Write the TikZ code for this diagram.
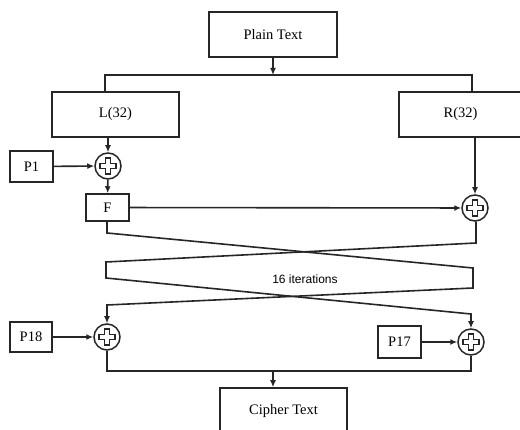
\documentclass[tikz,border=0pt]{standalone}
\usepackage{fontspec}
\setmainfont{Liberation Serif}
\newfontfamily\itersans{Liberation Sans}
\usetikzlibrary{arrows.meta}
\tikzset{
	box/.style = {draw, line width=1.5pt, fill=white, font=\fontsize{14.5}{16}\selectfont},
	xor/.style = {draw, circle, line width=1.5pt, minimum size=26pt, inner sep=0pt,
		path picture={\draw[line width=1.3pt] ([shift={(-2.5,-8)}]path picture bounding box.center)
			-- ++(5,0) -- ++(0,5.5) -- ++(5.5,0) -- ++(0,5) -- ++(-5.5,0) -- ++(0,5.5)
			-- ++(-5,0) -- ++(0,-5.5) -- ++(-5.5,0) -- ++(0,-5) -- ++(5.5,0) -- cycle;}}
}
\begin{document}
\begin{tikzpicture} [x = 1pt, y = -1pt, line width = 1.6pt, draw = black!85, >={Latex[length=7pt,width=6pt]}]
	\useasboundingbox (0,0) rectangle (520,430);
	% blocks
	\node[box, minimum width=128pt, minimum height=45pt] (plain) at (273,34.5) {Plain Text};
	\node[box, minimum width=127pt, minimum height=45pt] (lhalf) at (115.5,114.5) {L(32)};
	\node[box, minimum width=123pt, minimum height=45pt] (rhalf) at (460.5,114.5) {R(32)};
	\node[box, minimum width=43pt, minimum height=31pt] (p1) at (31.5,166.5) {P1};
	\node[box, minimum width=43pt, minimum height=27pt] (f) at (107.5,207.5) {F};
	\node[box, minimum width=42pt, minimum height=30pt] (p18) at (31,337) {P18};
	\node[box, minimum width=43pt, minimum height=32pt] (p17) at (399.5,342) {P17};
	\node[box, minimum width=127pt, minimum height=46pt] (cipher) at (283.5,411) {Cipher Text};
	\node[xor] (xorA) at (108,166) {};
	\node[xor] (xorB) at (475,208) {};
	\node[xor] (xorC) at (107,337) {};
	\node[xor] (xorD) at (471,342) {};
	% split and join points
	\coordinate (split) at (273,75);
	\coordinate (lt) at (105,75);
	\coordinate (rt) at (472,75);
	\coordinate (join) at (273,371);
	% crossing paths
	\coordinate (c1) at (107,233);
	\coordinate (c2) at (473,268);
	\coordinate (c3) at (473,288);
	\coordinate (c4) at (107,305);
	\coordinate (d1) at (476,243);
	\coordinate (d2) at (106,262);
	\coordinate (d3) at (106,278);
	\coordinate (d4) at (471,314);
	\draw [->] (plain) -- (split);
	\draw (lhalf.north -| lt) -- (lt) -- (rt) -- (rhalf.north -| rt);
	\draw [->] (lhalf.south -| xorA) -- (xorA);
	\draw [->] (p1) -- (xorA);
	\draw [->] (xorA) -- (f);
	\draw [->] (f) -- (xorB);
	\draw [->] (rhalf.south -| xorB) -- (xorB);
	\draw [->] (f.south -| c1) -- (c1) -- (c2) -- (c3) -- (c4) -- (xorC);
	\draw [->] (xorB.south -| d1) -- (d1) -- (d2) -- (d3) -- (d4) -- (xorD);
	\node [font=\itersans\fontsize{12}{14}\selectfont] (iter) at (305,279) {16 iterations};
	\draw [->] (p18) -- (xorC);
	\draw [->] (p17) -- (xorD);
	\draw (xorC) -- (xorC |- join) -- (xorD |- join) -- (xorD);
	\draw [->] (join) -- (cipher.north -| join);
\end{tikzpicture}
\end{document}
